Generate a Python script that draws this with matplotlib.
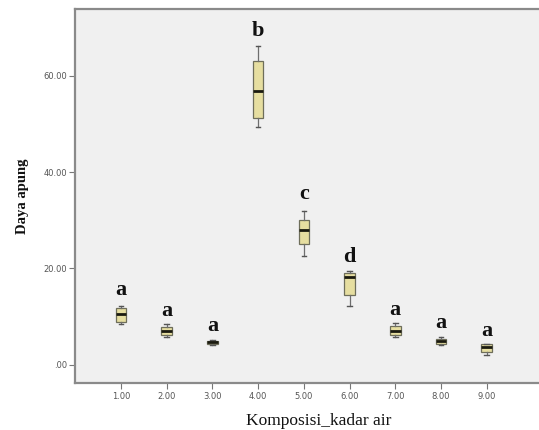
import matplotlib
matplotlib.use("Agg")
import matplotlib.pyplot as plt

groups = [1, 2, 3, 4, 5, 6, 7, 8, 9]
tick_labels = ["1.00", "2.00", "3.00", "4.00", "5.00", "6.00", "7.00", "8.00", "9.00"]
whisk_lo = [8.4, 5.8, 4.0, 49.4, 22.6, 12.1, 5.7, 4.1, 2.1]
q1 = [8.9, 6.1, 4.4, 51.3, 25.1, 14.5, 6.1, 4.4, 2.6]
med = [10.5, 7.0, 4.8, 56.8, 28.0, 18.2, 7.0, 5.0, 3.6]
q3 = [11.7, 7.9, 5.0, 63.0, 30.1, 19.0, 8.0, 5.4, 4.3]
whisk_hi = [12.1, 8.4, 5.1, 66.1, 32.0, 19.4, 8.6, 5.7, 4.4]
letters = ["a", "a", "a", "b", "c", "d", "a", "a", "a"]
letter_y = [15.6, 11.2, 8.0, 69.2, 35.4, 22.3, 11.4, 8.7, 7.0]
yticks = [0, 20, 40, 60]
ytick_labels = [".00", "20.00", "40.00", "60.00"]

fig = plt.figure(figsize=(5.39, 4.30), dpi=100)
ax = fig.add_axes([0.1397, 0.1086, 0.865, 0.870])
ax.set_facecolor("#f0f0f0")

stats = []
for i in range(len(groups)):
    stats.append(dict(whislo=whisk_lo[i], q1=q1[i], med=med[i], q3=q3[i],
                      whishi=whisk_hi[i], fliers=[]))
ax.bxp(stats, positions=groups, widths=0.23, patch_artist=True, showfliers=False,
       boxprops=dict(facecolor="#e6dea0", edgecolor="#6e6e5a", linewidth=0.9),
       medianprops=dict(color="#1a1a10", linewidth=2.0),
       whiskerprops=dict(color="#6e6e6e", linewidth=0.9),
       capprops=dict(color="#555555", linewidth=1.0),
       capwidths=0.1)

for x, t, y in zip(groups, letters, letter_y):
    ax.text(x, y, t, ha="center", va="center", fontsize=16, fontweight="bold",
            family=["Liberation Serif", "DejaVu Serif"], color="#111111")

ax.set_xlim(0, 10.2)
ax.set_ylim(-3.86, 73.8)
ax.set_xticks(groups)
ax.set_xticklabels(tick_labels)
ax.set_yticks(yticks)
ax.set_yticklabels(ytick_labels)
ax.tick_params(axis="both", labelsize=6, colors="#777777", length=4, width=0.8,
               direction="out", pad=2)
for lab in ax.get_xticklabels() + ax.get_yticklabels():
    lab.set_color("#555555")

for s in ["left", "bottom", "top", "right"]:
    ax.spines[s].set_color("#8a8a8a")
    ax.spines[s].set_linewidth(1.6)

ax.set_xlabel("Komposisi_kadar air", fontsize=12.5, family=["Liberation Serif"],
              color="#111111")
ax.xaxis.set_label_coords(0.521, -0.080)
ax.set_ylabel("Daya apung", fontsize=10.5, fontweight="bold",
              family=["Liberation Serif"], color="#111111")
ax.yaxis.set_label_coords(-0.100, 0.50)

fig.savefig("out.png", dpi=100)
